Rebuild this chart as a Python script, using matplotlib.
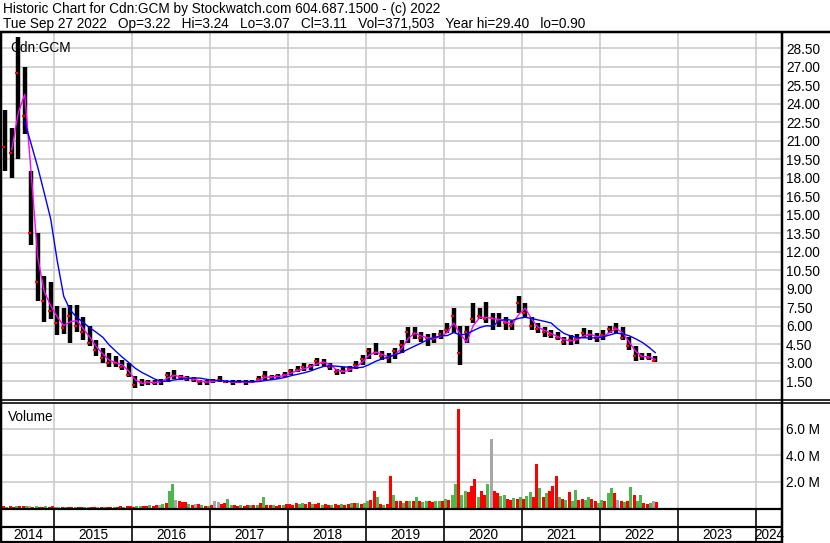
import matplotlib
matplotlib.use('Agg')
import matplotlib.pyplot as plt
from matplotlib.lines import Line2D
from matplotlib.ticker import FuncFormatter
import numpy as np
import pandas as pd

plt.rcParams['font.family'] = ['Liberation Sans', 'DejaVu Sans']

# monthly bars, May 2014 .. Sep 2022
lows = [18.5, 18.0, 19.5, 21.5, 12.5, 8.0, 6.3, 6.5, 5.2, 5.3,
        4.6, 5.5, 4.8, 4.3, 3.5, 3.0, 2.6, 2.6, 2.4, 1.8,
        0.9, 1.1, 1.2, 1.2, 1.2, 1.4, 1.7, 1.6, 1.5, 1.4,
        1.2, 1.2, 1.3, 1.4, 1.3, 1.2, 1.3, 1.2, 1.3, 1.4,
        1.6, 1.6, 1.7, 1.8, 2.0, 2.2, 2.3, 2.4, 2.7, 2.7,
        2.4, 2.0, 2.1, 2.2, 2.5, 2.8, 3.3, 3.6, 3.2, 3.0,
        3.3, 3.8, 4.6, 4.9, 4.7, 4.3, 4.6, 4.9, 5.4, 5.4,
        2.8, 4.6, 6.2, 6.5, 6.2, 5.6, 5.9, 5.6, 5.6, 7.0,
        6.7, 5.6, 5.4, 5.1, 5.0, 4.8, 4.4, 4.4, 4.5, 5.0,
        4.8, 4.7, 4.8, 5.4, 5.4, 4.8, 4.0, 3.1, 3.2, 3.2,
        3.07]
highs = [23.5, 22.0, 29.4, 27.0, 18.5, 13.5, 10.0, 9.5, 7.6, 7.4,
         7.7, 7.7, 6.7, 6.0, 4.8, 4.2, 3.8, 3.5, 3.2, 3.0,
         1.9, 1.7, 1.6, 1.6, 1.7, 2.2, 2.4, 2.0, 1.9, 1.8,
         1.6, 1.6, 1.7, 1.9, 1.6, 1.6, 1.6, 1.6, 1.6, 1.9,
         2.3, 2.0, 2.1, 2.2, 2.5, 2.7, 3.0, 2.9, 3.4, 3.3,
         3.0, 2.5, 2.6, 2.7, 3.1, 3.6, 4.2, 4.6, 3.9, 3.8,
         4.2, 4.8, 5.9, 5.9, 5.5, 5.3, 5.4, 5.6, 6.2, 7.4,
         6.0, 6.0, 7.8, 7.4, 7.9, 7.0, 7.0, 6.7, 6.4, 8.4,
         7.8, 6.7, 6.2, 5.9, 5.6, 5.5, 5.1, 5.2, 5.3, 5.8,
         5.6, 5.4, 5.6, 6.0, 6.2, 5.9, 5.1, 4.3, 3.8, 3.8,
         3.5]
closes = [20.5, 20.0, 26.5, 23.0, 13.5, 9.5, 8.0, 7.2, 6.2, 5.8,
          6.8, 6.0, 5.5, 4.6, 4.0, 3.4, 3.0, 3.0, 2.6, 2.0,
          1.2, 1.4, 1.4, 1.35, 1.5, 2.0, 1.9, 1.8, 1.7, 1.6,
          1.4, 1.4, 1.5, 1.6, 1.4, 1.4, 1.45, 1.4, 1.4, 1.7,
          1.9, 1.8, 1.9, 2.0, 2.3, 2.4, 2.6, 2.7, 3.1, 3.0,
          2.6, 2.2, 2.3, 2.5, 2.8, 3.3, 3.9, 3.8, 3.5, 3.4,
          3.9, 4.4, 5.5, 5.3, 5.0, 5.0, 4.9, 5.3, 5.6, 6.8,
          3.8, 5.5, 6.5, 6.8, 6.5, 6.6, 6.4, 6.2, 6.0, 7.8,
          7.0, 6.0, 5.7, 5.5, 5.2, 5.0, 4.7, 4.8, 4.9, 5.4,
          5.2, 5.0, 5.2, 5.7, 5.8, 5.0, 4.3, 3.5, 3.5, 3.4,
          3.11]

# volume, two values per month, in millions
volumes = [0.12, 0.1, 0.14, 0.1, 0.15, 0.13, 0.12, 0.14, 0.13, 0.11, 0.12, 0.1, 0.11, 0.13, 0.1, 0.12, 0.11, 0.09, 0.1, 0.1,
           0.09, 0.1, 0.1, 0.09, 0.09, 0.1, 0.1, 0.11, 0.09, 0.1, 0.1, 0.09, 0.11, 0.1, 0.1, 0.11, 0.12, 0.11, 0.13, 0.12,
           0.1, 0.13, 0.15, 0.12, 0.16, 0.2, 0.15, 0.2, 0.25, 0.3, 0.35, 1.3, 1.8, 0.6, 0.5, 0.45, 0.45, 0.3, 0.25, 0.3,
           0.3, 0.2, 0.15, 0.18, 0.2, 0.5, 0.45, 0.3, 0.4, 0.65, 0.25, 0.2, 0.15, 0.2, 0.15, 0.2, 0.2, 0.25, 0.25, 0.35,
           0.8, 0.25, 0.25, 0.2, 0.15, 0.2, 0.2, 0.3, 0.3, 0.25, 0.35, 0.3, 0.4, 0.3, 0.45, 0.3, 0.3, 0.35, 0.25, 0.3,
           0.2, 0.25, 0.3, 0.2, 0.3, 0.25, 0.3, 0.35, 0.35, 0.4, 0.3, 0.4, 0.5, 0.6, 1.3, 0.85, 0.3, 0.25, 0.3, 2.45,
           0.95, 0.5, 0.55, 0.35, 0.5, 0.55, 0.55, 0.8, 0.5, 0.45, 0.5, 0.55, 0.45, 0.5, 0.5, 0.55, 0.7, 0.6, 0.95, 1.8,
           7.5, 1.0, 1.3, 1.2, 1.7, 2.2, 0.8, 1.3, 1.0, 1.8, 5.2, 1.3, 1.1, 0.9, 0.95, 0.7, 0.6, 0.75, 0.7, 0.8,
           0.7, 0.9, 1.2, 0.8, 3.3, 1.5, 0.8, 1.1, 1.3, 1.7, 2.4, 0.8, 0.65, 0.6, 1.2, 0.5, 1.4, 0.6, 0.7, 0.6,
           0.85, 0.65, 0.5, 0.35, 0.6, 0.5, 1.1, 1.5, 1.1, 0.6, 0.5, 0.45, 0.5, 1.6, 0.95, 0.5, 1.0, 0.4, 0.3, 0.35,
           0.5, 0.45]
vol_dir = ("rg rr gr rg nr gr rg rr gn rg rr gr rg gr rn rg rr gr rg rr "
           "rg gr rg rr ng rg gn rr rg rn rg rg rn nr rg gr rg rr gr gr "
           "gr rg rr gr rr rg gr rg rr gr rg rr gr rg rg rg gr rg rg rr "
           "gr rg rg rg rg gr rg gr gr gg rg gr rr gr rg nr rg gr rg rg "
           "rg gr rg rg rr rg rg rg gr rg gr rg gr gg rn rg rg rg gr rg nr").replace(' ', '')

price_ticks = [1.5, 3.0, 4.5, 6.0, 7.5, 9.0, 10.5, 12.0, 13.5, 15.0, 16.5, 18.0, 19.5,
               21.0, 22.5, 24.0, 25.5, 27.0, 28.5]
vol_ticks = [2, 4, 6]
years = list(range(2014, 2025))

title1 = "Historic Chart for Cdn:GCM by Stockwatch.com 604.687.1500 - (c) 2022"
title2 = ("Tue Sep 27 2022   Op=3.22   Hi=3.24   Lo=3.07   Cl=3.11   Vol=371,503   "
          "Year hi=29.40   lo=0.90")

months = pd.date_range('2014-05-01', periods=len(closes), freq='MS')
t = np.asarray(months.year + (months.month - 0.5) / 12.0)
tv = np.repeat(t, 2) + np.tile([-0.25 / 12, 0.25 / 12], len(t))
colmap = {'r': '#ff0000', 'g': '#4cb84c', 'n': '#a6a6a6'}
vcols = [colmap[c] for c in vol_dir]

W, H = 830, 543
fig = plt.figure(figsize=(W / 100, H / 100), dpi=100)


def fx(x):
    return x / W


def fy(y):
    return 1 - y / H


def hline(y, x0, x1, lw=2.0):
    fig.add_artist(Line2D([fx(x0), fx(x1)], [fy(y), fy(y)], transform=fig.transFigure,
                          color='black', lw=lw * 0.72, solid_capstyle='butt'))


def vline(x, y0, y1, lw=2.0):
    fig.add_artist(Line2D([fx(x), fx(x)], [fy(y0), fy(y1)], transform=fig.transFigure,
                          color='black', lw=lw * 0.72, solid_capstyle='butt'))


xmin, xmax = 2014 + 4 / 12, 2024 + 4 / 12
grid_c = '#c8c8c8'
fs = 9.8

# price panel
ax = fig.add_axes([fx(2), fy(400), fx(780), fy(33) - fy(400)])
ax.set_xlim(xmin, xmax)
ax.set_ylim(-0.04, 29.72)
ax.set_xticks(years[1:])
ax.set_yticks(price_ticks)
ax.grid(True, color=grid_c, lw=1.1)
ax.set_axisbelow(True)
ax.tick_params(axis='x', length=0, labelbottom=False)
ax.tick_params(axis='y', length=0, left=False, labelleft=False, right=False,
               labelright=True, pad=3, labelsize=fs)
ax.yaxis.set_major_formatter(FuncFormatter(lambda v, p: f"{v:.2f}"))
for s in ax.spines.values():
    s.set_visible(False)

ax.vlines(t, lows, highs, color='black', lw=3.2, zorder=3)
ax.plot(t, closes, ls='none', marker=0, ms=2.5, mew=1.6, color='red', zorder=4)
ma_fast = pd.Series(closes).rolling(2, min_periods=2).mean()
ma_slow = pd.Series(closes).rolling(6, min_periods=4).mean()
ax.plot(t, ma_fast, color='#ff00ff', lw=1.0, zorder=5)
ax.plot(t, ma_slow, color='#0000ff', lw=1.0, zorder=6)
ax.text(0.011, 0.977, "Cdn:GCM", transform=ax.transAxes, fontsize=fs,
        ha='left', va='top', zorder=7)

# volume panel
axv = fig.add_axes([fx(2), fy(508), fx(780), fy(403) - fy(508)])
axv.set_xlim(xmin, xmax)
axv.set_ylim(0, 7.95)
axv.set_xticks(years[1:])
axv.set_yticks(vol_ticks)
axv.grid(True, color=grid_c, lw=1.1)
axv.set_axisbelow(True)
axv.tick_params(axis='x', length=0, labelbottom=False)
axv.tick_params(axis='y', length=0, left=False, labelleft=False, right=False,
                labelright=True, pad=3, labelsize=fs)
axv.yaxis.set_major_formatter(FuncFormatter(lambda v, p: f"{v:.1f} M"))
for s in axv.spines.values():
    s.set_visible(False)
axv.bar(tv, volumes, width=0.85 / 24, color=vcols, lw=0, zorder=3)
axv.text(0.008, 0.93, "Volume", transform=axv.transAxes, fontsize=fs,
         ha='left', va='top')

# header
fig.text(fx(3), fy(9), title1, fontsize=fs, ha='left', va='center')
fig.text(fx(3), fy(24), title2, fontsize=fs, ha='left', va='center')

# frame
hline(32, 0, W, 2.5)
hline(400, 0, W, 1.6)
hline(403, 0, W, 1.6)
hline(509, 0, 782, 2.2)
hline(527, 0, 782, 2.2)
hline(542, 0, 782, 2.2)
vline(1, 32, 543, 2.5)
vline(782, 32, 543, 2.5)

# year boxes along the bottom
x_of = lambda yr: 2 + (yr - xmin) / (xmax - xmin) * 780
for yr in years[1:]:
    vline(x_of(yr), 509, 542, 1.6)
for yr in years:
    left = max(x_of(yr), 2)
    right = min(x_of(yr + 1), 782)
    fig.text(fx((left + right) / 2), fy(535), str(yr), fontsize=fs,
             ha='center', va='center')

fig.savefig('out.png', dpi=100)
